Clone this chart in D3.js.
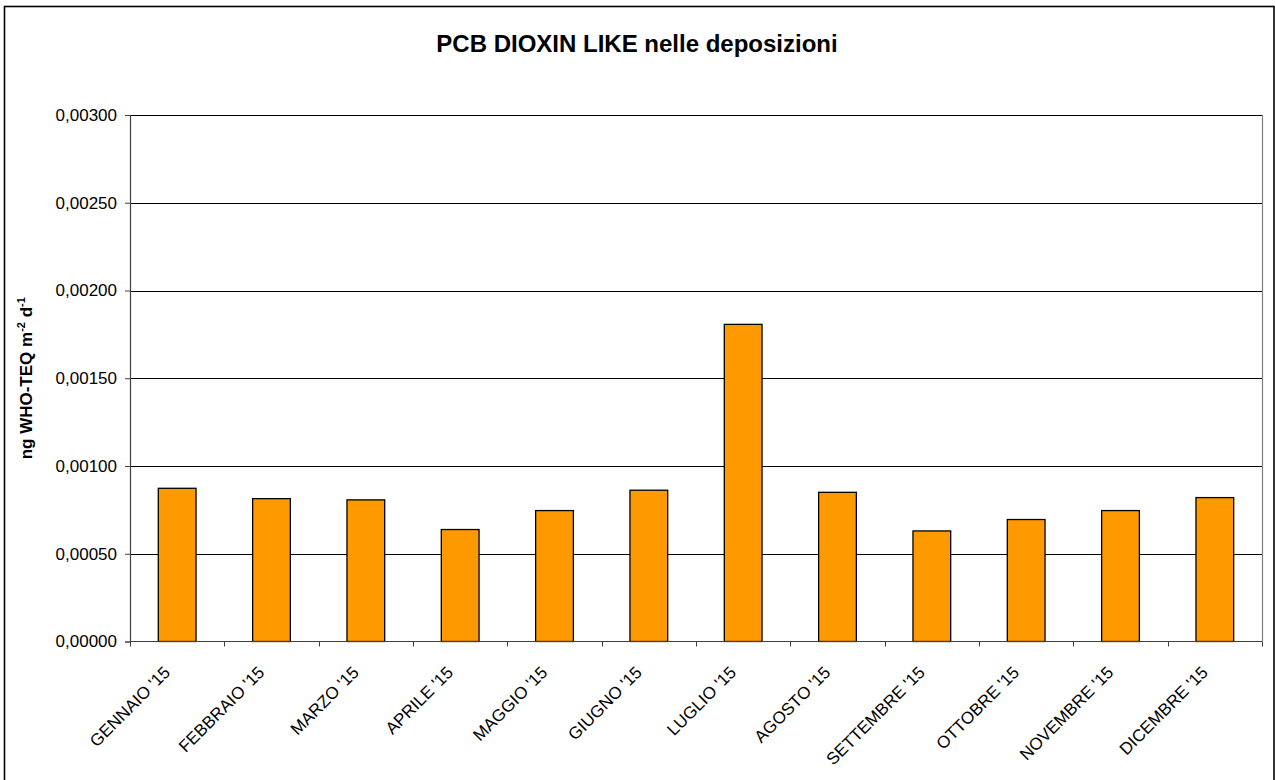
<!DOCTYPE html>
<html lang="it">
<head>
<meta charset="UTF-8">
<title>PCB DIOXIN LIKE nelle deposizioni</title>
<script src="https://d3js.org/d3.v7.min.js"></script>
<style>
  body { margin: 0; background: #fff; font-family: "Liberation Sans", Arial, sans-serif; }
  svg { display: block; }
</style>
</head>
<body>
<svg id="chart" width="1275" height="780"></svg>
<script>
// data
var months = ["GENNAIO '15", "FEBBRAIO '15", "MARZO '15", "APRILE '15", "MAGGIO '15", "GIUGNO '15",
              "LUGLIO '15", "AGOSTO '15", "SETTEMBRE '15", "OTTOBRE '15", "NOVEMBRE '15", "DICEMBRE '15"];
var values = [0.000873, 0.000814, 0.000807, 0.000638, 0.000746, 0.000862,
              0.001807, 0.000850, 0.000630, 0.000695, 0.000746, 0.000820];
var yTicks = [0, 0.0005, 0.001, 0.0015, 0.002, 0.0025, 0.003];

var svg = d3.select("#chart");
var plotLeft = 130, plotRight = 1262, plotTop = 115, plotBottom = 641.5;

// outer frame
svg.append("rect").attr("x", 4.5).attr("y", 6.5).attr("width", 1269.5).attr("height", 790)
  .attr("fill", "#fff").attr("stroke", "#000").attr("stroke-width", 1.6);

var x = d3.scaleBand().domain(months).range([plotLeft, plotRight]).paddingInner(0.6).paddingOuter(0.3);
var xEdge = d3.scaleLinear().domain([0, months.length]).range([plotLeft, plotRight]);
var y = d3.scaleLinear().domain([0, 0.003]).range([plotBottom, plotTop]);
var fmt = function(d) { return d3.format(".5f")(d).replace(".", ","); };

// gridlines
svg.append("g").selectAll("line").data(yTicks.slice(1)).join("line")
  .attr("x1", plotLeft).attr("x2", plotRight)
  .attr("y1", function(d) { return Math.round(y(d)) + 0.5; })
  .attr("y2", function(d) { return Math.round(y(d)) + 0.5; })
  .attr("stroke", "#000").attr("stroke-width", 1);

// plot area right border
svg.append("line").attr("x1", plotRight + 0.5).attr("x2", plotRight + 0.5)
  .attr("y1", plotTop).attr("y2", plotBottom)
  .attr("stroke", "#808080").attr("stroke-width", 1.2);

// bars
svg.append("g").selectAll("rect").data(values).join("rect")
  .attr("x", function(d, i) { return x(months[i]); })
  .attr("y", function(d) { return y(d); })
  .attr("width", x.bandwidth())
  .attr("height", function(d) { return plotBottom - y(d); })
  .attr("fill", "#FF9900").attr("stroke", "#000").attr("stroke-width", 1.3);

// y axis
var yAxis = d3.axisLeft(y).tickValues(yTicks).tickFormat(fmt).tickSize(5).tickPadding(8);
var gy = svg.append("g").attr("transform", "translate(" + plotLeft + ",0)").call(yAxis);
gy.select(".domain").attr("stroke", "#404040").attr("stroke-width", 1.2);
gy.selectAll(".tick line").attr("stroke", "#404040");
gy.selectAll(".tick text").attr("font-size", 17).attr("fill", "#000")
  .attr("font-family", "'Liberation Sans', Arial, sans-serif");

// x axis line and tick marks on category edges
svg.append("line").attr("x1", plotLeft).attr("x2", plotRight).attr("y1", plotBottom).attr("y2", plotBottom)
  .attr("stroke", "#404040").attr("stroke-width", 1.2);
svg.append("g").selectAll("line").data(d3.range(months.length + 1)).join("line")
  .attr("x1", function(i) { return Math.round(xEdge(i)) + 0.5; })
  .attr("x2", function(i) { return Math.round(xEdge(i)) + 0.5; })
  .attr("y1", plotBottom).attr("y2", plotBottom + 5)
  .attr("stroke", "#404040");

// rotated category labels
svg.append("g").selectAll("text").data(months).join("text")
  .attr("transform", function(d) {
    return "translate(" + (x(d) + x.bandwidth() / 2 - 6) + "," + (plotBottom + 32) + ") rotate(-45)";
  })
  .attr("text-anchor", "end")
  .attr("font-size", 17)
  .text(function(d) { return d; });

// title
svg.append("text").attr("x", 637).attr("y", 52).attr("text-anchor", "middle")
  .attr("font-size", 24).attr("font-weight", "bold").text("PCB DIOXIN LIKE nelle deposizioni");

// y axis title with superscripts
var yt = svg.append("text").attr("transform", "translate(32," + ((plotTop + plotBottom) / 2) + ") rotate(-90)")
  .attr("text-anchor", "middle").attr("font-size", 17).attr("font-weight", "bold");
yt.append("tspan").text("ng WHO-TEQ m");
yt.append("tspan").attr("dy", -7).attr("font-size", 11).text("-2");
yt.append("tspan").attr("dy", 7).text(" d");
yt.append("tspan").attr("dy", -7).attr("font-size", 11).text("-1");
</script>
</body>
</html>
